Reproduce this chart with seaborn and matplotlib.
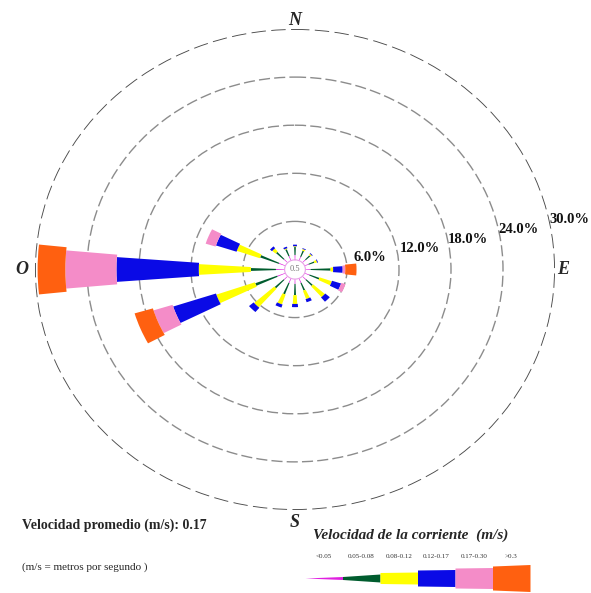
import numpy as np
import matplotlib
matplotlib.use("Agg")
import matplotlib.pyplot as plt
import seaborn as sns

# --- datos: rosa de corrientes (% por dirección y clase de velocidad) ---
direcciones = ["N", "NNE", "NE", "ENE", "E", "ESE", "SE", "SSE",
               "S", "SSW", "SW", "WSW", "W", "WNW", "NW", "NNW"]
angulos = np.arange(16) * 22.5

clases = ["<0.05", "0.05-0.08", "0.08-0.12", "0.12-0.17", "0.17-0.30", ">0.3"]
colores = ["#e020e0", "#005c2e", "#ffff00", "#0a0ae6", "#f48cc8", "#ff6010"]

v_clase1 = [0.6, 0.5, 0.5, 0.5, 0.6, 0.6, 0.6, 0.6, 0.6, 0.6, 0.6, 1.0, 1.0, 0.8, 0.6, 0.6]
v_clase2 = [1.0, 0.8, 0.7, 0.7, 2.3, 1.2, 1.0, 1.0, 1.4, 1.5, 1.4, 2.7, 2.9, 2.3, 1.2, 0.9]
v_clase3 = [0.1, 0.2, 0.2, 0.3, 0.3, 1.5, 1.8, 1.1, 1.1, 1.3, 3.1, 4.7, 6.0, 2.8, 0.5, 0.1]
v_clase4 = [0.2, 0.1, 0.1, 0.1, 1.1, 1.1, 0.7, 0.4, 0.4, 0.4, 0.7, 5.2, 9.5, 2.5, 0.3, 0.2]
v_clase5 = [0.0, 0.0, 0.0, 0.0, 0.3, 0.5, 0.0, 0.0, 0.0, 0.0, 0.0, 2.3, 5.9, 1.2, 0.0, 0.0]
v_clase6 = [0.0, 0.0, 0.0, 0.0, 1.3, 0.0, 0.0, 0.0, 0.0, 0.0, 0.0, 2.2, 3.2, 0.0, 0.0, 0.0]
valores = [v_clase1, v_clase2, v_clase3, v_clase4, v_clase5, v_clase6]

calmas = "0.5"
radio_calmas = 1.2
anillos = [6, 12, 18, 24, 30]
velocidad_promedio = 0.17

# --- estilo ---
sns.set_theme(style="white")
plt.rcParams["font.family"] = ["Liberation Serif", "DejaVu Serif"]

anchos = [0.05, 0.07, 0.12, 0.15, 0.18, 0.21]

fig = plt.figure(figsize=(5.91, 5.93), dpi=100)
ax = fig.add_axes([0.0592, 0.14, 0.8799, 0.8111], projection="polar")
ax.set_aspect("auto")
ax.set_theta_zero_location("N")
ax.set_theta_direction(-1)

theta = np.deg2rad(angulos)
base = np.full(16, radio_calmas)
for vals, col, w in zip(valores, colores, anchos):
    vals = np.array(vals)
    ax.bar(theta, vals, width=w, bottom=base, color=col, linewidth=0, zorder=3)
    base = base + vals

# círculo de calmas
tt = np.linspace(0, 2 * np.pi, 200)
ax.plot(tt, np.full_like(tt, radio_calmas), color="#e8a0e8", lw=0.8, zorder=4)
ax.text(0, 0, calmas, ha="center", va="center", fontsize=6, color="#777777", zorder=5)

ax.set_ylim(0, 30)
ax.set_yticks(anillos)
ax.set_yticklabels([])
ax.set_xticks([])
ax.yaxis.grid(True, color="#8c8c8c", linestyle=(0, (8, 3)), linewidth=1.0)
ax.yaxis.get_gridlines()[-1].set_color("#4a4a4a")
ax.yaxis.get_gridlines()[-1].set_linewidth(1.3)
ax.spines["polar"].set_visible(False)

for r in anillos:
    dr = 0.9 if r == 6 else (0.4 if r == 12 else 0.0)
    ax.text(np.deg2rad(78), r + dr, f"{r:.1f}%", ha="left", va="center",
            fontsize=10.5, fontweight="bold", color="#111111", zorder=6)

for lab, ang, r in [("N", 0, 31.1), ("E", 90, 30.9), ("S", 180, 31.5), ("O", 270, 31.5)]:
    ax.text(np.deg2rad(ang), r, lab, ha="center", va="center", fontsize=13,
            fontweight="bold", fontstyle="italic", clip_on=False)

# --- textos inferiores ---
fig.text(22 / 591, 1 - 525 / 593, f"Velocidad promedio (m/s): {velocidad_promedio}",
         fontsize=10, fontweight="bold", va="center", ha="left")
fig.text(22 / 591, 1 - 567 / 593, "(m/s = metros por segundo )",
         fontsize=8, va="center", ha="left")
fig.text(313 / 591, 1 - 535 / 593, "Velocidad de la corriente  (m/s)",
         fontsize=11, fontweight="bold", fontstyle="italic", va="center", ha="left")

# --- leyenda de colores ---
lax = fig.add_axes([305 / 591, 0.0, 225 / 591, 30 / 593])
alto_ini = [0.0, 3.0, 11.0, 16.0, 20.0, 24.0]
alto_fin = [3.0, 8.0, 12.0, 17.0, 21.0, 27.0]
for i, col in enumerate(colores):
    xs = np.array([i, i + 1])
    h = np.array([alto_ini[i], alto_fin[i]]) / 2
    lax.fill_between(xs, -h, h, color=col, linewidth=0)
    fig.text((305 + (i + 0.5) * 37.5) / 591, 1 - 557 / 593, clases[i],
             fontsize=5, ha="center", va="center", color="#333333")
lax.set_xlim(0, 6)
lax.set_ylim(-15, 15)
lax.axis("off")

fig.savefig("out.png", dpi=100)
